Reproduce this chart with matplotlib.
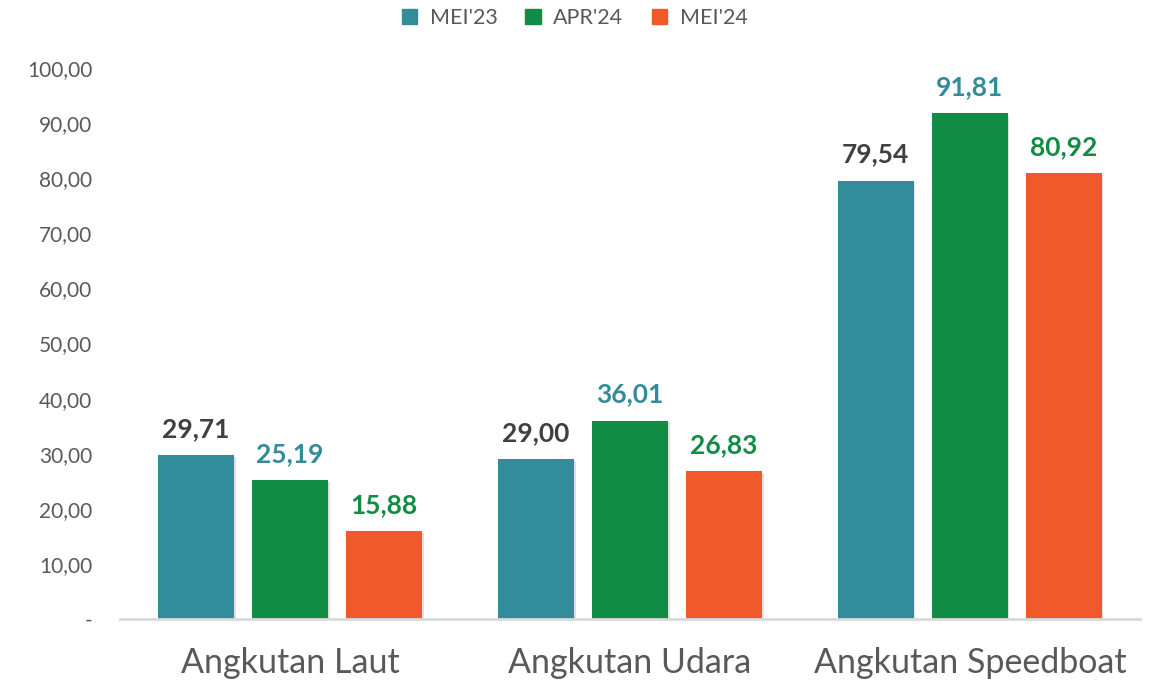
import numpy as np
import matplotlib.pyplot as plt
import matplotlib.patheffects as pe
from matplotlib.patches import Patch

# data
categories = ["Angkutan Laut", "Angkutan Udara", "Angkutan Speedboat"]
series_names = ["MEI'23", "APR'24", "MEI'24"]
mei23 = [29.71, 29.00, 79.54]
apr24 = [25.19, 36.01, 91.81]
mei24 = [15.88, 26.83, 80.92]
y_ticks = [0, 10, 20, 30, 40, 50, 60, 70, 80, 90, 100]

bar_colors = ["#338C9A", "#108C45", "#F05A2B"]
label_colors = ["#404040", "#338C9A", "#108C45"]

plt.rcParams['font.family'] = ['Lato', 'DejaVu Sans']

fig = plt.figure(figsize=(11.49, 6.87), dpi=100)
ax = fig.add_axes([0.1044, 0.099, 0.8876, 0.802])

x = np.arange(len(categories))
width = 0.2235
step = 0.2765
shadow = [pe.SimplePatchShadow(offset=(1.2, -1.2), shadow_rgbFace='#000000', alpha=0.12), pe.Normal()]

for i, vals in enumerate([mei23, apr24, mei24]):
    bars = ax.bar(x + (i - 1) * step, vals, width, color=bar_colors[i], zorder=3)
    for b in bars:
        b.set_path_effects(shadow)
    for xi, v in zip(x + (i - 1) * step, vals):
        ax.text(xi, v + 2.6, f"{v:.2f}".replace(".", ","), ha='center', va='bottom',
                fontsize=19, fontweight='bold', color=label_colors[i], clip_on=False)

ax.set_xlim(-0.5, 2.5)
ax.set_ylim(0, 100)
ax.set_yticks(y_ticks)
ax.set_yticklabels(["-"] + [f"{t:.2f}".replace(".", ",") for t in y_ticks[1:]])
ax.set_xticks(x)
ax.set_xticklabels(categories)

for s in ['top', 'right', 'left']:
    ax.spines[s].set_visible(False)
ax.spines['bottom'].set_color('#D9D9D9')
ax.spines['bottom'].set_linewidth(2)
ax.spines['bottom'].set_zorder(4)

ax.tick_params(axis='y', length=0, pad=20, labelsize=15, labelcolor='#595959')
ax.tick_params(axis='x', length=0, pad=20, labelsize=24.5, labelcolor='#595959')

handles = [Patch(color=c, label=n) for c, n in zip(bar_colors, series_names)]
fig.legend(handles=handles, loc='upper center', bbox_to_anchor=(0.5, 1.016), ncol=3,
           frameon=False, fontsize=15.5, labelcolor='#595959', handlelength=0.7,
           handleheight=0.7, columnspacing=1.3, handletextpad=0.6)

fig.savefig("out.png", dpi=100)
